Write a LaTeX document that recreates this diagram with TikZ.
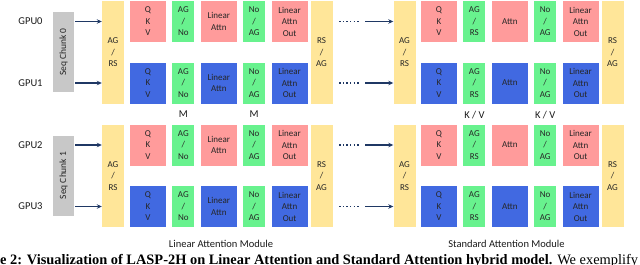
\documentclass[tikz,border=0pt]{standalone}
\usepackage{fontspec}
\usepackage{graphicx}
\setmainfont{Carlito}
\newfontfamily\capfont{Liberation Serif}
\usetikzlibrary{positioning, arrows.meta}

\definecolor{boxpink}{RGB}{255,155,155}
\definecolor{boxgreen}{RGB}{104,242,142}
\definecolor{boxblue}{RGB}{65,105,225}
\definecolor{boxyellow}{RGB}{255,230,153}
\definecolor{boxgray}{RGB}{200,200,200}
\definecolor{arrnavy}{RGB}{31,56,100}

\begin{document}
\begin{tikzpicture}[
    x=1pt, y=-1pt,
    box/.style={rectangle, inner sep=0pt, minimum height=41pt, align=center, text=black!85, font=\fontsize{9}{11.5}\selectfont},
    pinkbox/.style={box, minimum width=36pt, fill=boxpink},
    bluebox/.style={box, minimum width=36pt, fill=boxblue},
    greenbox/.style={box, minimum width=22pt, fill=boxgreen},
    ybar/.style={box, minimum width=22pt, minimum height=102.5pt, fill=boxyellow},
    chunk/.style={rectangle, fill=boxgray, minimum width=21pt, minimum height=80pt, inner sep=0pt, text=black!85, font=\fontsize{9.5}{11}\selectfont},
    gpu/.style={inner sep=0pt, text=black!90, font=\fontsize{10.5}{12}\selectfont},
    lbl/.style={inner sep=0pt, text=black!90, font=\fontsize{10.5}{12}\selectfont},
    modlbl/.style={inner sep=0pt, text=black!90, font=\fontsize{10.5}{12}\selectfont},
    arr/.style={-{Stealth[length=5pt, width=4.5pt]}, line width=1.1pt, draw=arrnavy},
    dotline/.style={line width=1.4pt, dash pattern=on 1.4pt off 2.2pt, draw=arrnavy}
]
    \useasboundingbox (0,0) rectangle (640,265);
    \clip (0,0) rectangle (640,265);

    % sequence chunks and devices
    \node[chunk] (chunk0) at (63.5,52) {\rotatebox{90}{Seq Chunk 0}};
    \node[chunk] (chunk1) at (63.5,175.5) {\rotatebox{90}{Seq Chunk 1}};
    \node[gpu] (gpu0) at (30.5,21.5) {GPU0};
    \node[gpu] (gpu1) at (30.5,83) {GPU1};
    \node[gpu] (gpu2) at (30.5,145) {GPU2};
    \node[gpu] (gpu3) at (30.5,206.5) {GPU3};

    % communication bars
    \node[ybar] (inAG0) at (113,52.25) {AG\\/\\RS};
    \node[ybar] (midRS0) at (321.5,52.25) {RS\\/\\AG};
    \node[ybar] (midAG0) at (404.5,52.25) {AG\\/\\RS};
    \node[ybar] (outRS0) at (612.5,52.25) {RS\\/\\AG};
    \node[ybar] (inAG1) at (113,175.75) {AG\\/\\RS};
    \node[ybar] (midRS1) at (321.5,175.75) {RS\\/\\AG};
    \node[ybar] (midAG1) at (404.5,175.75) {AG\\/\\RS};
    \node[ybar] (outRS1) at (612.5,175.75) {RS\\/\\AG};

    % GPU0
    \node[pinkbox] (qkvL0) at (148,21.5) {Q\\K\\V};
    \node[greenbox, right=6pt of qkvL0] (agL0) {AG\\/\\No};
    \node[pinkbox, right=6pt of agL0] (linL0) {Linear\\Attn};
    \node[greenbox, right=6pt of linL0] (noL0) {No\\/\\AG};
    \node[pinkbox, right=6pt of noL0] (outL0) {Linear\\Attn\\Out};
    \node[pinkbox] (qkvS0) at (439,21.5) {Q\\K\\V};
    \node[greenbox, right=6pt of qkvS0] (agS0) {AG\\/\\RS};
    \node[pinkbox, right=6pt of agS0] (attS0) {Attn};
    \node[greenbox, right=6pt of attS0] (noS0) {No\\/\\AG};
    \node[pinkbox, right=6pt of noS0] (outS0) {Linear\\Attn\\Out};

    % GPU1
    \node[bluebox] (qkvL1) at (148,83) {Q\\K\\V};
    \node[greenbox, right=6pt of qkvL1] (agL1) {AG\\/\\No};
    \node[bluebox, right=6pt of agL1] (linL1) {Linear\\Attn};
    \node[greenbox, right=6pt of linL1] (noL1) {No\\/\\AG};
    \node[bluebox, right=6pt of noL1] (outL1) {Linear\\Attn\\Out};
    \node[bluebox] (qkvS1) at (439,83) {Q\\K\\V};
    \node[greenbox, right=6pt of qkvS1] (agS1) {AG\\/\\RS};
    \node[bluebox, right=6pt of agS1] (attS1) {Attn};
    \node[greenbox, right=6pt of attS1] (noS1) {No\\/\\AG};
    \node[bluebox, right=6pt of noS1] (outS1) {Linear\\Attn\\Out};

    % GPU2
    \node[pinkbox] (qkvL2) at (148,145) {Q\\K\\V};
    \node[greenbox, right=6pt of qkvL2] (agL2) {AG\\/\\No};
    \node[pinkbox, right=6pt of agL2] (linL2) {Linear\\Attn};
    \node[greenbox, right=6pt of linL2] (noL2) {No\\/\\AG};
    \node[pinkbox, right=6pt of noL2] (outL2) {Linear\\Attn\\Out};
    \node[pinkbox] (qkvS2) at (439,145) {Q\\K\\V};
    \node[greenbox, right=6pt of qkvS2] (agS2) {AG\\/\\RS};
    \node[pinkbox, right=6pt of agS2] (attS2) {Attn};
    \node[greenbox, right=6pt of attS2] (noS2) {No\\/\\AG};
    \node[pinkbox, right=6pt of noS2] (outS2) {Linear\\Attn\\Out};

    % GPU3
    \node[bluebox] (qkvL3) at (148,206.5) {Q\\K\\V};
    \node[greenbox, right=6pt of qkvL3] (agL3) {AG\\/\\No};
    \node[bluebox, right=6pt of agL3] (linL3) {Linear\\Attn};
    \node[greenbox, right=6pt of linL3] (noL3) {No\\/\\AG};
    \node[bluebox, right=6pt of noL3] (outL3) {Linear\\Attn\\Out};
    \node[bluebox] (qkvS3) at (439,206.5) {Q\\K\\V};
    \node[greenbox, right=6pt of qkvS3] (agS3) {AG\\/\\RS};
    \node[bluebox, right=6pt of agS3] (attS3) {Attn};
    \node[greenbox, right=6pt of attS3] (noS3) {No\\/\\AG};
    \node[bluebox, right=6pt of noS3] (outS3) {Linear\\Attn\\Out};

    % states passed between chunks
    \node[lbl, below=7pt of agL1] (mA) {M};
    \node[lbl, below=7pt of noL1] (mB) {M};
    \node[lbl, below=7pt of agS1] (kvA) {K / V};
    \node[lbl, below=7pt of noS1] (kvB) {K / V};

    \node[modlbl] (modL) at (221,244) {Linear Attention Module};
    \node[modlbl] (modS) at (506.5,244) {Standard Attention Module};

    % inputs
    \draw[arr] ([xshift=1pt]chunk0.east |- gpu0) -- (inAG0.west |- gpu0);
    \draw[arr] ([xshift=1pt]chunk0.east |- gpu1) -- (inAG0.west |- gpu1);
    \draw[arr] ([xshift=1pt]chunk1.east |- gpu2) -- (inAG1.west |- gpu2);
    \draw[arr] ([xshift=1pt]chunk1.east |- gpu3) -- (inAG1.west |- gpu3);

    % between modules
    \draw[dotline] ([xshift=6.5pt]midRS0.east |- qkvL0) -- ++(20,0);
    \draw[dotline] ([xshift=6.5pt]midRS0.east |- qkvL1) -- ++(20,0);
    \draw[dotline] ([xshift=6.5pt]midRS1.east |- qkvL2) -- ++(20,0);
    \draw[dotline] ([xshift=6.5pt]midRS1.east |- qkvL3) -- ++(20,0);
    \draw[arr] ([xshift=-28pt]midAG0.west |- qkvL0) -- (midAG0.west |- qkvL0);
    \draw[arr] ([xshift=-28pt]midAG0.west |- qkvL1) -- (midAG0.west |- qkvL1);
    \draw[arr] ([xshift=-28pt]midAG1.west |- qkvL2) -- (midAG1.west |- qkvL2);
    \draw[arr] ([xshift=-28pt]midAG1.west |- qkvL3) -- (midAG1.west |- qkvL3);

    \node[anchor=base west, inner sep=0pt, font=\capfont\fontsize{14.4}{17}\selectfont] (caption) at (0,264) {\textbf{e 2: Visualization of LASP-2H on Linear Attention and Standard Attention hybrid model.} We exemplify};
\end{tikzpicture}
\end{document}
